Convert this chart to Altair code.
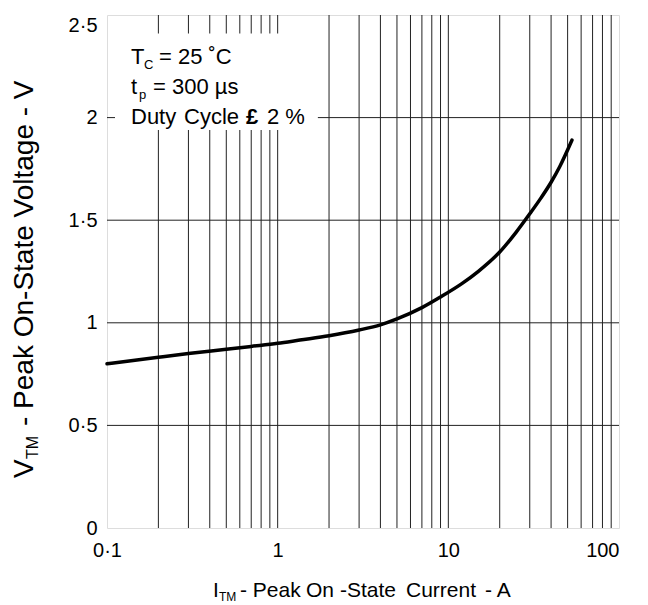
import altair as alt
import pandas as pd

# ---- data ----
current_a = [0.1, 0.2, 0.3, 0.5, 0.7, 1, 1.35, 2, 3, 4, 5, 7, 9, 12, 15, 20, 25, 30, 35, 40, 45, 53]
voltage_v = [0.800, 0.832, 0.850, 0.871, 0.885, 0.900, 0.916, 0.937, 0.965, 0.990, 1.019, 1.074, 1.126,
             1.191, 1.251, 1.345, 1.442, 1.531, 1.610, 1.685, 1.762, 1.890]

x_grid = [0.2, 0.3, 0.4, 0.5, 0.6, 0.7, 0.8, 0.9, 1, 2, 3, 4, 5, 6, 7, 8, 9, 10,
          20, 30, 40, 50, 60, 70, 80, 90]
y_grid = [0.5, 1.0, 1.5, 2.0]
x_ticks = [0.1, 1, 10, 100]
y_ticks = [0, 0.5, 1, 1.5, 2, 2.5]

# legend box (data coordinates)
box_x = [0.1114]
box_x2 = [1.72]
box_y = [1.94]
box_y2 = [2.41]

FONT = "Liberation Sans"
W, H = 512, 513

curve = pd.DataFrame({"I": current_a, "V": voltage_v})

xscale = alt.Scale(type="log", domain=[0.1, 100])
yscale = alt.Scale(domain=[0, 2.5])

LBL = "replace(format(datum.value, '~g'), '.', '·')"

base_x = alt.X("I:Q", scale=xscale,
               axis=alt.Axis(values=x_ticks, grid=False, ticks=False, domain=False,
                             labelFont=FONT, labelFontSize=20, labelColor="black",
                             labelPadding=12, labelBaseline="top", labelFlush=False,
                             labelAlign={"condition": {"test": "datum.value >= 100", "value": "right"},
                                         "value": "center"},
                             labelExpr=LBL),
               title=None)
base_y = alt.Y("V:Q", scale=yscale,
               axis=alt.Axis(values=y_ticks, grid=False, ticks=False, domain=False,
                             labelFont=FONT, labelFontSize=20, labelColor="black",
                             labelPadding=10, labelExpr=LBL, labelFlush=False,
                             labelBaseline={"condition": {"test": "datum.value >= 2.5", "value": "top"},
                                            "value": "middle"}),
               title=None)

vgrid = alt.Chart(pd.DataFrame({"g": x_grid})).mark_rule(color="#222", strokeWidth=1).encode(
    x=alt.X("g:Q", scale=xscale))
hgrid = alt.Chart(pd.DataFrame({"h": y_grid})).mark_rule(color="#222", strokeWidth=1).encode(
    y=alt.Y("h:Q", scale=yscale))

box = alt.Chart(pd.DataFrame({"x": box_x, "x2": box_x2, "y": box_y, "y2": box_y2})).mark_rect(
    color="white").encode(
    x=alt.X("x:Q", scale=xscale), x2="x2:Q",
    y=alt.Y("y:Q", scale=yscale), y2="y2:Q")

line = alt.Chart(curve).mark_line(color="black", strokeWidth=3.5, interpolate="monotone",
                                  strokeCap="round").encode(x=base_x, y=base_y)

one = pd.DataFrame({"a": [0]})


def txt(s, x, y, size=22, bold=False, angle=0):
    kw = dict(font=FONT, fontSize=size, color="black", align="left", baseline="alphabetic")
    if bold:
        kw["fontWeight"] = "bold"
    if angle:
        kw["angle"] = angle
    return alt.Chart(one).mark_text(**kw).encode(
        x=alt.value(x), y=alt.value(y), text=alt.value(s))


OX, OY = 107, 15  # plot origin on the page
labels = [
    # annotation
    txt("T", 131 - OX, 64 - OY), txt("C", 144 - OX, 69 - OY, size=13), txt("= 25 ˚C", 159 - OX, 64 - OY),
    txt("t", 131 - OX, 94 - OY), txt("p", 139 - OX, 99 - OY, size=13), txt("= 300 µs", 153 - OX, 94 - OY),
    txt("Duty", 131 - OX, 124 - OY), txt("Cycle", 184 - OX, 124 - OY),
    txt("£", 246 - OX, 124 - OY, bold=True), txt("2 %", 267 - OX, 124 - OY),
    # x axis title
    txt("I", 213 - OX, 597 - OY, size=21), txt("TM", 219 - OX, 601 - OY, size=12),
    txt("- Peak", 240 - OX, 597 - OY, size=21), txt("On", 306 - OX, 597 - OY, size=21),
    txt("-State", 340 - OX, 597 - OY, size=21), txt("Current", 406 - OX, 597 - OY, size=21),
    txt("- A", 485 - OX, 597 - OY, size=21),
    # y axis title
    txt("V", 33 - OX, 478 - OY, size=28, angle=270),
    txt("TM", 38 - OX, 459 - OY, size=16, angle=270),
    txt("- Peak On-State Voltage - V", 33 - OX, 426 - OY, size=28, angle=270),
]

chart = alt.layer(vgrid, hgrid, box, line, *labels).properties(
    width=W, height=H,
    autosize=alt.AutoSizeParams(type="none"),
    padding={"left": OX - 8, "top": OY - 8, "right": 21, "bottom": 77},
).configure_view(stroke="black", strokeWidth=2.5).configure(background="white")

chart.save("out.html", embed_options={"renderer": "svg", "actions": False})
